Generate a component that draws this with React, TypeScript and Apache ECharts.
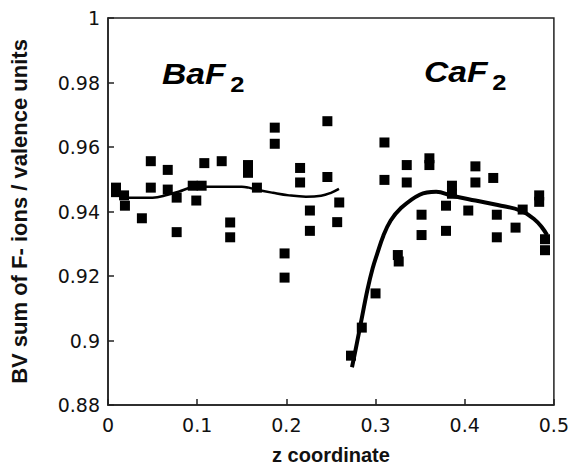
import React, { useEffect, useRef } from "react";
import * as echarts from "echarts";

const baf2X = [0.009, 0.009, 0.018, 0.019, 0.038, 0.048, 0.048, 0.067, 0.067, 0.077, 0.077, 0.095, 0.099, 0.108, 0.105, 0.1275, 0.137, 0.137, 0.157, 0.157, 0.167, 0.187, 0.187, 0.198, 0.198, 0.2154, 0.2154, 0.2264, 0.2264, 0.246, 0.246, 0.2593, 0.257];
const baf2Y = [0.9474, 0.946, 0.945, 0.9418, 0.9379, 0.9556, 0.9474, 0.9529, 0.9468, 0.9443, 0.9336, 0.948, 0.9434, 0.955, 0.948, 0.9556, 0.9366, 0.932, 0.9544, 0.952, 0.9474, 0.966, 0.961, 0.927, 0.9195, 0.9535, 0.949, 0.9403, 0.934, 0.968, 0.9507, 0.9428, 0.9367];

const caf2X = [0.2725, 0.2846, 0.3, 0.31, 0.31, 0.325, 0.326, 0.335, 0.335, 0.3516, 0.3516, 0.3604, 0.3604, 0.379, 0.379, 0.3857, 0.3857, 0.404, 0.412, 0.412, 0.432, 0.436, 0.436, 0.457, 0.465, 0.4835, 0.4835, 0.49, 0.49];
const caf2Y = [0.8953, 0.904, 0.9146, 0.9614, 0.9498, 0.9265, 0.9245, 0.9544, 0.949, 0.939, 0.9327, 0.9565, 0.9544, 0.9418, 0.934, 0.948, 0.9455, 0.9403, 0.954, 0.949, 0.9504, 0.939, 0.932, 0.935, 0.9406, 0.945, 0.943, 0.9314, 0.928];

const baf2FitX = [0.014, 0.03, 0.05, 0.067, 0.08, 0.09, 0.1, 0.125, 0.15, 0.158, 0.166, 0.185, 0.203, 0.222, 0.239, 0.25, 0.259];
const baf2FitY = [0.9443, 0.9443, 0.9443, 0.9452, 0.9462, 0.9472, 0.9477, 0.9477, 0.9477, 0.9474, 0.9468, 0.9458, 0.945, 0.9446, 0.9449, 0.9458, 0.947];

const caf2FitX = [0.2736, 0.279, 0.2835, 0.291, 0.2967, 0.302, 0.3088, 0.317, 0.3275, 0.3495, 0.368, 0.3857, 0.412, 0.437, 0.4626, 0.478, 0.4868, 0.4923];
const caf2FitY = [0.8917, 0.899, 0.9054, 0.9158, 0.9223, 0.927, 0.9325, 0.9372, 0.9408, 0.9452, 0.9461, 0.9449, 0.9434, 0.942, 0.9403, 0.9376, 0.935, 0.9327];

const xTitle = "z coordinate";
const yTitle = "BV sum of F- ions / valence units";

const zip = (xs: number[], ys: number[]) => xs.map((x, i) => [x, ys[i]]);

export default function App() {
  const ref = useRef<HTMLDivElement>(null);
  useEffect(() => {
    if (!ref.current) return;
    const chart = echarts.init(ref.current, null, { renderer: "svg" });
    const font = "Liberation Sans, Arial, Helvetica, sans-serif";
    const labelFont = "DejaVu Sans, Liberation Sans, sans-serif";
    const axisColor = "#222";
    const subLabel = (left: number, top: number, main: string) => ({
      type: "text",
      left,
      top,
      scaleX: 1.16,
      style: {
        text: `{a|${main}}{b|2}`,
        fontFamily: font,
        rich: {
          a: { fontSize: 29, fontWeight: "bold", fontStyle: "italic", fill: "#000", fontFamily: font },
          b: { fontSize: 22, fontWeight: "bold", fill: "#000", fontFamily: font, padding: [20, 0, 0, 4] },
        },
      },
    });
    chart.setOption({
      animation: false,
      backgroundColor: "#fff",
      textStyle: { fontFamily: font },
      grid: {
        left: 101,
        right: 15,
        top: 18,
        bottom: 60,
        show: true,
        borderColor: axisColor,
        borderWidth: 1.5,
        backgroundColor: "transparent",
      },
      xAxis: {
        type: "value",
        min: 0,
        max: 0.5,
        interval: 0.1,
        name: xTitle,
        nameLocation: "middle",
        nameGap: 40,
        nameTextStyle: { fontSize: 20, fontWeight: "bold", color: "#111", fontFamily: font },
        axisLine: { show: true, lineStyle: { color: axisColor, width: 1.5 } },
        axisTick: { show: true, inside: true, length: 6, lineStyle: { color: axisColor, width: 1.5 } },
        axisLabel: { fontSize: 19, color: "#111", margin: 10, fontFamily: labelFont },
        splitLine: { show: false },
      },
      yAxis: {
        type: "value",
        min: 0.88,
        max: 1,
        interval: 0.02,
        name: yTitle,
        nameLocation: "middle",
        nameGap: 78,
        nameRotate: 90,
        nameTextStyle: { fontSize: 22, fontWeight: "bold", color: "#111", fontFamily: font },
        axisLine: { show: true, lineStyle: { color: axisColor, width: 1.5 } },
        axisTick: { show: true, inside: true, length: 6, lineStyle: { color: axisColor, width: 1.5 } },
        axisLabel: { fontSize: 19, color: "#111", margin: 8, fontFamily: labelFont },
        splitLine: { show: false },
      },
      graphic: [subLabel(162, 60, "BaF"), subLabel(424, 58, "CaF")],
      series: [
        {
          type: "scatter",
          name: "BaF2",
          data: zip(baf2X, baf2Y),
          symbol: "rect",
          symbolSize: 10,
          itemStyle: { color: "#000", opacity: 1 },
        },
        {
          type: "scatter",
          name: "CaF2",
          data: zip(caf2X, caf2Y),
          symbol: "rect",
          symbolSize: 10,
          itemStyle: { color: "#000", opacity: 1 },
        },
        {
          type: "line",
          name: "BaF2 fit",
          data: zip(baf2FitX, baf2FitY),
          showSymbol: false,
          smooth: 0.4,
          lineStyle: { color: "#000", width: 2.5 },
        },
        {
          type: "line",
          name: "CaF2 fit",
          data: zip(caf2FitX, caf2FitY),
          showSymbol: false,
          smooth: 0.4,
          lineStyle: { color: "#000", width: 4 },
        },
      ],
    });
    return () => chart.dispose();
  }, []);
  return (
    <div
      ref={ref}
      style={{ position: "fixed", left: 0, top: 0, width: 572, height: 470 }}
    />
  );
}
